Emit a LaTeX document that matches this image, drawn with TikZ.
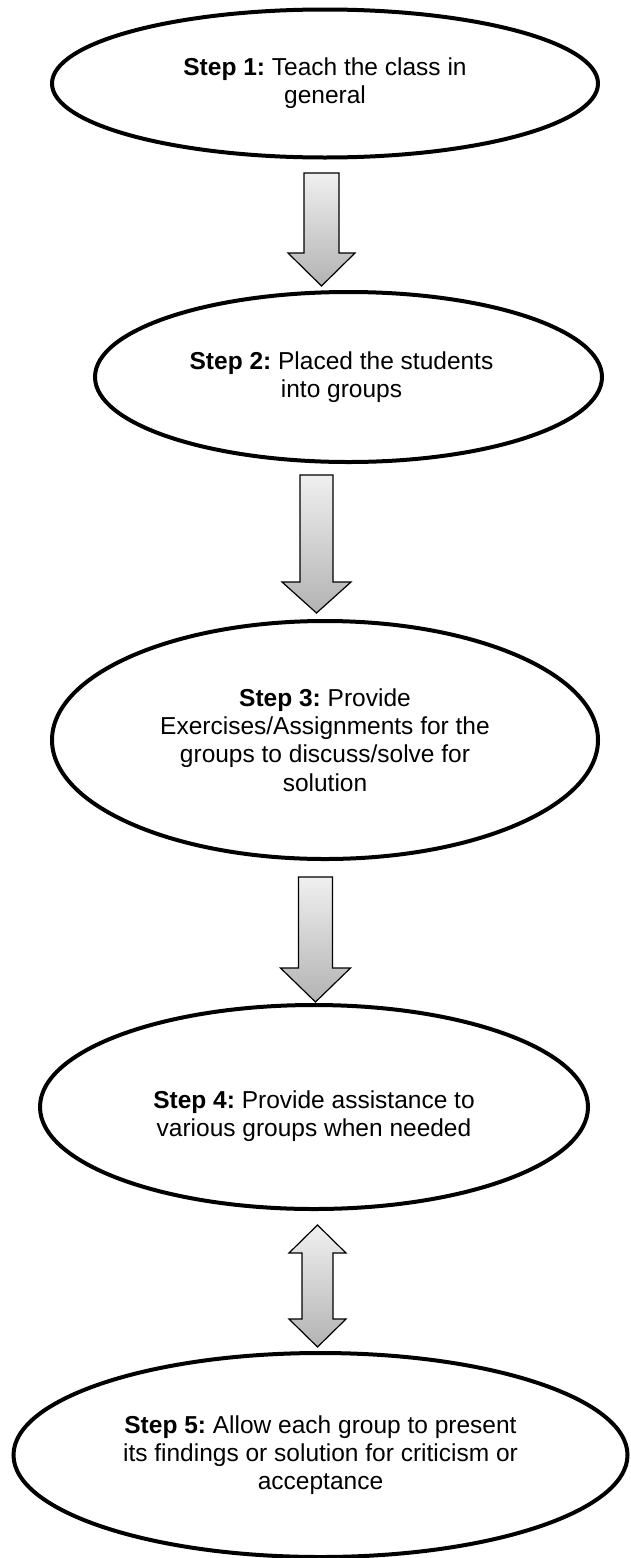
\documentclass[tikz,border=0pt]{standalone}
\usepackage{fontspec}
\setmainfont{Liberation Sans}
\frenchspacing
\usetikzlibrary{shapes.geometric,calc}
% #1 start, #2 tip, #3 shaft half width, #4 head half width, #5 head height
\newcommand{\blockdown}[5]{%
  \path let \p1=(#1), \p2=(#2) in
    [blockarrow] (\x1-#3pt,\y1) -- (\x1+#3pt,\y1) -- (\x1+#3pt,\y2+#5pt)
    -- (\x1+#4pt,\y2+#5pt) -- (\x2,\y2) -- (\x1-#4pt,\y2+#5pt)
    -- (\x1-#3pt,\y2+#5pt) -- cycle;}
% #1 top tip, #2 bottom tip, #3 shaft half, #4 head half, #5 head height
\newcommand{\blockboth}[5]{%
  \path let \p1=(#1), \p2=(#2) in
    [blockarrow] (\x1,\y1) -- (\x1+#4pt,\y1-#5pt) -- (\x1+#3pt,\y1-#5pt)
    -- (\x1+#3pt,\y2+#5pt) -- (\x1+#4pt,\y2+#5pt) -- (\x2,\y2)
    -- (\x1-#4pt,\y2+#5pt) -- (\x1-#3pt,\y2+#5pt) -- (\x1-#3pt,\y1-#5pt)
    -- (\x1-#4pt,\y1-#5pt) -- cycle;}
\begin{document}
\begin{tikzpicture}[x=1pt,y=-1pt,
  stepnode/.style={ellipse,draw=black,line width=4pt,fill=white,inner sep=0pt},
  steptext/.style={inner sep=0pt,align=center,font=\fontsize{24.5}{28.2}\selectfont},
  blockarrow/.style={draw=black,line width=1.2pt,line join=miter,
    top color=black!6,bottom color=black!30}]
\useasboundingbox (0,0) rectangle (631,1558);

\node[stepnode,minimum width=546,minimum height=148] (s1) at (325,83.5) {};
\node[stepnode,minimum width=507,minimum height=170] (s2) at (348.5,377) {};
\node[stepnode,minimum width=546,minimum height=238] (s3) at (325,740) {};
\node[stepnode,minimum width=548,minimum height=204] (s4) at (314,1107) {};
\node[stepnode,minimum width=614,minimum height=204] (s5) at (320.5,1455) {};

\node[steptext] (t1) at (s1.center)
  {\textbf{Step 1:} Teach the class in\\general};
\node[steptext] (t2) at ($(s2.center)+(-7,0)$)
  {\textbf{Step 2:} Placed the students\\into groups};
\node[steptext] (t3) at (s3.center)
  {\textbf{Step 3:} Provide\\Exercises/Assignments for the\\groups to discuss/solve for\\solution};
\node[steptext] (t4) at ($(s4.center)+(0,9)$)
  {\textbf{Step 4:} Provide assistance to\\various groups when needed};
\node[steptext] (t5) at (s5.center)
  {\textbf{Step 5:} Allow each group to present\\its findings or solution for criticism or\\acceptance};

\coordinate (a1s) at (321.5,173);  \coordinate (a1e) at (321.5,286);
\coordinate (a2s) at (316.5,475);  \coordinate (a2e) at (316.5,613);
\coordinate (a3s) at (315.5,877);  \coordinate (a3e) at (315.5,1002);
\coordinate (a4s) at (317.5,1225); \coordinate (a4e) at (317.5,1347);

\blockdown{a1s}{a1e}{17.5}{33.5}{33}
\blockdown{a2s}{a2e}{16.5}{34.5}{31}
\blockdown{a3s}{a3e}{17}{35}{34}
\blockboth{a4s}{a4e}{15.5}{28.5}{28}
\end{tikzpicture}
\end{document}
